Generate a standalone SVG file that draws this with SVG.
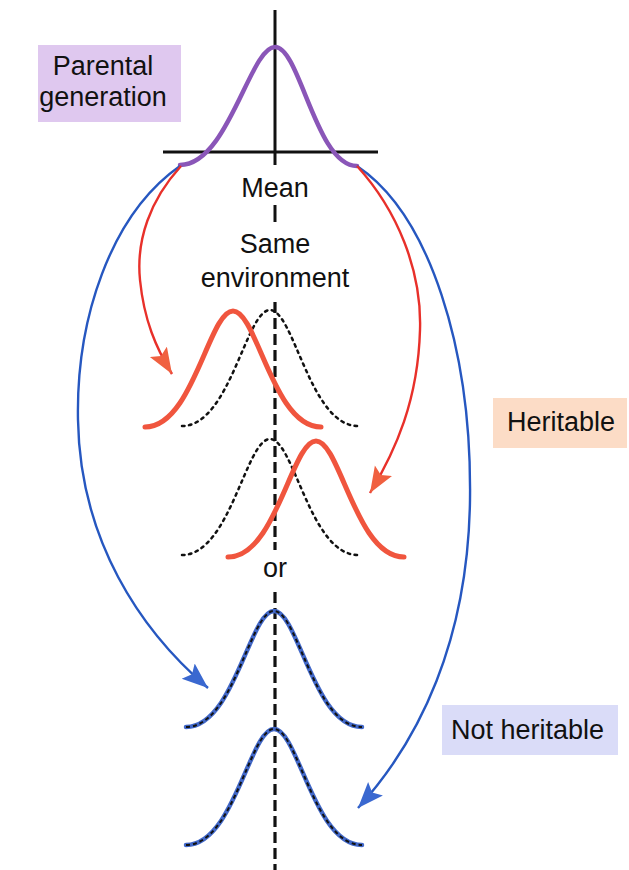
<svg xmlns="http://www.w3.org/2000/svg" xmlns:xlink="http://www.w3.org/1999/xlink" width="629" height="870" viewBox="0 0 629 870">
<style>
text{font-family:"Liberation Sans",Arial,sans-serif;font-size:27px;fill:#111}
.axis{stroke:#111;stroke-width:3;fill:none}
.dash{stroke:#111;stroke-width:3.2;fill:none;stroke-dasharray:11 5}
.purple{stroke:#8a56b8;stroke-width:4.5;fill:none;stroke-linecap:round}
.red{stroke:#f0553e;stroke-width:5;fill:none;stroke-linecap:round}
.dot{stroke:#111;stroke-width:2.5;fill:none;stroke-dasharray:2.5 4.5;stroke-linecap:round}
.blue{stroke:#4268c8;stroke-width:4.5;fill:none;stroke-linecap:round}
.bdash{stroke:#111;stroke-width:2;fill:none;stroke-dasharray:4 3}
.ared{stroke:#e8302a;stroke-width:2.4;fill:none}
.ablue{stroke:#2657c0;stroke-width:2.4;fill:none}
</style>
<defs>
<path id="bell" d="M-88,0 C-40,0 -24,-116 0,-116 C24,-116 40,0 88,0"/>
<marker id="hr" markerUnits="userSpaceOnUse" markerWidth="30" markerHeight="24" refX="26" refY="10" orient="auto">
<path d="M0,0 L26,10 L0,20 L5,10 Z" fill="#f06040"/>
</marker>
<marker id="hb" markerUnits="userSpaceOnUse" markerWidth="30" markerHeight="24" refX="26" refY="10" orient="auto">
<path d="M0,0 L26,10 L0,20 L5,10 Z" fill="#3a68d0"/>
</marker>
</defs>

<g id="axis">
<line class="axis" x1="275" y1="10" x2="275" y2="165"/>
<line class="axis" x1="163" y1="152" x2="378" y2="152" stroke-width="3.5"/>
<line class="axis" x1="275" y1="205" x2="275" y2="222"/>
<line class="dash" x1="275" y1="302" x2="275" y2="550"/>
<line class="dash" x1="275" y1="592" x2="275" y2="870"/>
</g>

<g id="parental">
<rect x="38" y="45" width="143" height="77" fill="#dfc8ef"/>
<text x="103" y="75" text-anchor="middle">Parental</text>
<text x="103" y="106" text-anchor="middle">generation</text>
</g>

<g id="parent-curve">
<path class="purple" d="M180,165 C228,165 250,47 275,47 C300,47 316,166 357,166"/>
</g>

<g id="labels">
<text x="275" y="197" text-anchor="middle">Mean</text>
<text x="275" y="253" text-anchor="middle">Same</text>
<text x="275" y="287" text-anchor="middle">environment</text>
<text x="275" y="577" text-anchor="middle">or</text>
</g>

<g id="heritable">
<rect x="493" y="398" width="134" height="50" fill="#fcdcc6"/>
<text x="507" y="431">Heritable</text>
</g>

<g id="not-heritable">
<rect x="442" y="705" width="176" height="50" fill="#dadcf8"/>
<text x="451" y="739">Not heritable</text>
</g>

<g id="offspring-1">
<use xlink:href="#bell" class="dot" transform="translate(270,426)"/>
<use xlink:href="#bell" class="red" transform="translate(233,427)"/>
</g>
<g id="offspring-2">
<use xlink:href="#bell" class="dot" transform="translate(270,555)"/>
<use xlink:href="#bell" class="red" transform="translate(316,557)"/>
</g>
<g id="offspring-3">
<use xlink:href="#bell" class="blue" transform="translate(274,727)"/>
<use xlink:href="#bell" class="bdash" transform="translate(274,727)"/>
</g>
<g id="offspring-4">
<use xlink:href="#bell" class="blue" transform="translate(274,845)"/>
<use xlink:href="#bell" class="bdash" transform="translate(274,845)"/>
</g>

<g id="connectors">
<path class="ablue" d="M180,166 C110,215 76,320 78,420 C80,540 140,630 208,688" marker-end="url(#hb)"/>
<path class="ablue" d="M357,166 C430,215 472,350 470,500 C468,640 420,740 358,808" marker-end="url(#hb)"/>
<path class="ared" d="M181,166 C150,200 136,240 140,280 C144,320 156,348 172,374" marker-end="url(#hr)"/>
<path class="ared" d="M357,166 C397,210 422,270 420,330 C418,400 396,450 370,493" marker-end="url(#hr)"/>
</g>
</svg>
